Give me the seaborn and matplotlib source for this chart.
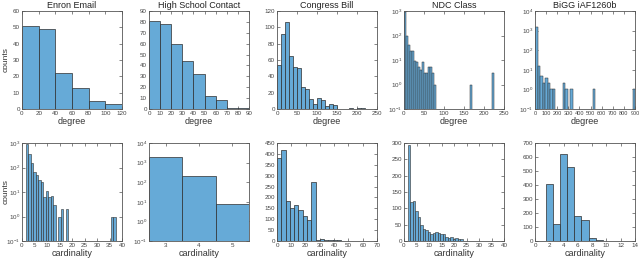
import numpy as np
import pandas as pd
import matplotlib
matplotlib.use("Agg")
import matplotlib.pyplot as plt
import matplotlib.ticker as mticker
import seaborn as sns

# Degree histograms (top row)
enron_deg_edges = list(range(0, 121, 20))
enron_deg_counts = [51, 49, 22, 13, 5, 3]

hs_deg_edges = list(range(0, 91, 10))
hs_deg_counts = [81, 78, 60, 44, 32, 12, 8, 1, 1]

congress_deg_edges = list(range(0, 221, 10))
congress_deg_counts = [54, 92, 106, 65, 51, 50, 27, 25, 12, 6, 14, 11, 4, 6, 5,
                       0, 0, 0, 1, 0, 1, 1]

ndc_deg_edges = list(range(0, 251, 5))
ndc_deg_bins = [0, 5, 10, 15, 20, 25, 30, 35, 40, 45, 50, 55, 60, 65, 70, 75, 165, 220]
ndc_deg_counts = [950, 95, 40, 23, 23, 9, 8, 5, 4, 8, 3, 3, 5, 5, 3, 1, 1, 3]

bigg_deg_edges = list(np.linspace(0, 900, 41))
bigg_deg_bins = [0, 1, 2, 3, 4, 5, 6, 7, 11, 12, 14, 23, 39]
bigg_deg_counts = [1600, 16, 5, 2, 4, 2, 1, 1, 2, 1, 1, 1, 1]

# Cardinality histograms (bottom row)
enron_card_vals = [2, 3, 4, 5, 6, 7, 8, 9, 10, 11, 12, 13, 15, 16, 18, 36, 37]
enron_card_counts = [900, 350, 150, 68, 48, 32, 26, 6, 11, 6, 7, 3, 1, 2, 2, 1, 1]

hs_card_vals = [3, 4, 5]
hs_card_counts = [1900, 215, 7.4]

congress_card_edges = list(range(0, 64, 3))
congress_card_counts = [380, 420, 185, 152, 165, 142, 113, 95, 270, 5, 8, 3, 5, 3,
                        3, 1, 1, 1, 2, 1, 2]

ndc_card_vals = list(range(2, 38))
ndc_card_counts = [295, 120, 123, 93, 73, 50, 37, 33, 27, 22, 23, 28, 25, 22, 20,
                   12, 8, 12, 5, 8, 5, 5, 1, 1, 1, 1, 0, 1, 0, 1, 0, 0, 1, 0, 0, 1]

bigg_card_vals = [2, 3, 4, 5, 6, 7, 8, 9, 10, 12]
bigg_card_counts = [405, 120, 625, 528, 180, 150, 18, 5, 1, 1]

titles = ["Enron Email", "High School Contact", "Congress Bill", "NDC Class", "BiGG iAF1260b"]

BAR = "#66AAD7"
EDGE = "#2d2d2d"

sns.set_theme(style="white")
plt.rcParams["font.family"] = ["Liberation Sans", "DejaVu Sans"]
plt.rcParams.update({
    "xtick.labelsize": 4.5, "ytick.labelsize": 4.5,
    "axes.edgecolor": "#555555", "axes.linewidth": 0.6,
})

fig = plt.figure(figsize=(6.4, 2.6), dpi=100)
lefts = [22, 149, 277, 404, 535]
W, H = 640.0, 260.0


def make_ax(col, top_px):
    return fig.add_axes([lefts[col] / W, 1 - (top_px + 98) / H, 100 / W, 98 / H])


def centers(edges, idx):
    e = [float(v) for v in edges]
    return [(e[i] + e[i + 1]) / 2 for i in idx]


def draw(ax, x, w, edges, logy=False, lw=0.5):
    df = pd.DataFrame({"x": [float(v) for v in x], "w": [float(v) for v in w]})
    sns.histplot(data=df, x="x", weights="w", bins=[float(e) for e in edges], ax=ax,
                 color=BAR, alpha=1, edgecolor=EDGE, linewidth=lw)
    if logy:
        ax.set_yscale("log")
        ax.yaxis.set_major_locator(mticker.LogLocator(base=10, numticks=10))
        ax.yaxis.set_minor_locator(mticker.NullLocator())
    ax.set_ylabel("")
    ax.set_xlabel("")
    ax.minorticks_off()
    ax.tick_params(axis="both", which="major", direction="in", top=True, right=True,
                   bottom=True, left=True, length=2, width=0.5, color="#555555",
                   labelcolor="#444444", pad=1.5)
    for s in ax.spines.values():
        s.set_visible(True)


# top row
tops = []
a = make_ax(0, 11)
draw(a, centers(enron_deg_edges, range(6)), enron_deg_counts, enron_deg_edges)
a.set_xlim(0, 120); a.set_ylim(0, 60)
a.set_xticks(range(0, 121, 20))
tops.append(a)

a = make_ax(1, 11)
draw(a, centers(hs_deg_edges, range(9)), hs_deg_counts, hs_deg_edges)
a.set_xlim(0, 90); a.set_ylim(0, 90)
a.set_xticks(range(0, 91, 10)); a.set_yticks(range(0, 91, 10))
tops.append(a)

a = make_ax(2, 11)
draw(a, centers(congress_deg_edges, range(len(congress_deg_counts))), congress_deg_counts,
     congress_deg_edges)
a.set_xlim(0, 250); a.set_ylim(0, 120)
a.set_xticks(range(0, 251, 50))
tops.append(a)

a = make_ax(3, 11)
draw(a, centers(ndc_deg_edges, [b // 5 for b in ndc_deg_bins]), ndc_deg_counts,
     ndc_deg_edges, logy=True, lw=0.35)
a.set_xlim(0, 250); a.set_ylim(0.1, 1000)
a.set_xticks(range(0, 251, 50))
tops.append(a)

a = make_ax(4, 11)
draw(a, centers(bigg_deg_edges, bigg_deg_bins), bigg_deg_counts, bigg_deg_edges,
     logy=True, lw=0.35)
a.set_xlim(0, 900); a.set_ylim(0.1, 10000)
a.set_xticks(range(0, 901, 100))
a.tick_params(axis="x", labelsize=4)
tops.append(a)

for a, t in zip(tops, titles):
    a.set_title(t, fontsize=6.5, pad=2.5, color="#222222")
    a.set_xlabel("degree", fontsize=6.5, labelpad=0.5, color="#333333")

# bottom row
bots = []


def int_edges(lo, hi):
    return [k - 0.5 for k in range(lo, hi + 2)]


a = make_ax(0, 143)
draw(a, enron_card_vals, enron_card_counts, int_edges(2, 37), logy=True, lw=0.4)
a.set_xlim(0, 40); a.set_ylim(0.1, 1000)
a.set_xticks(range(0, 41, 5))
bots.append(a)

a = make_ax(1, 143)
draw(a, hs_card_vals, hs_card_counts, int_edges(3, 5), logy=True)
a.set_xlim(2.5, 5.5); a.set_ylim(0.1, 10000)
a.set_xticks([3, 4, 5])
bots.append(a)

a = make_ax(2, 143)
draw(a, centers(congress_card_edges, range(len(congress_card_counts))), congress_card_counts,
     congress_card_edges)
a.set_xlim(0, 70); a.set_ylim(0, 450)
a.set_xticks(range(0, 71, 10)); a.set_yticks(range(0, 451, 50))
bots.append(a)

a = make_ax(3, 143)
draw(a, ndc_card_vals, ndc_card_counts, int_edges(2, 37), lw=0.4)
a.set_xlim(0, 40); a.set_ylim(0, 300)
a.set_xticks(range(0, 41, 5)); a.set_yticks(range(0, 301, 50))
bots.append(a)

a = make_ax(4, 143)
draw(a, bigg_card_vals, bigg_card_counts, int_edges(2, 12))
a.set_xlim(0, 14); a.set_ylim(0, 700)
a.set_xticks(range(0, 15, 2)); a.set_yticks(range(0, 701, 100))
bots.append(a)

for a in bots:
    a.set_xlabel("cardinality", fontsize=6.5, labelpad=0.5, color="#333333")

for a in (tops[0], bots[0]):
    a.set_ylabel("counts", fontsize=6, color="#333333")
    a.yaxis.set_label_coords(-0.12, 0.5)

fig.savefig("out.png", dpi=100)
